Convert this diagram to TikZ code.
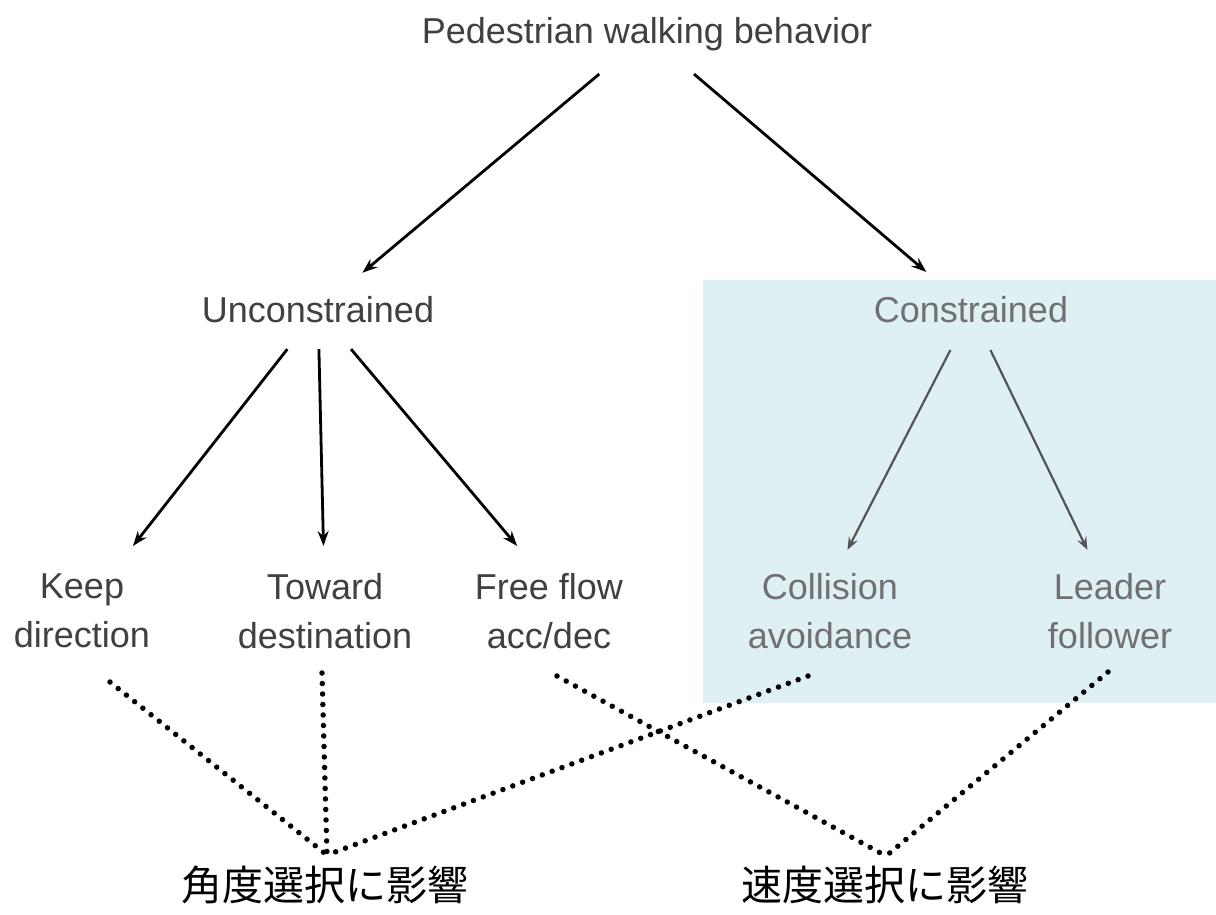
\documentclass[tikz,border=0pt]{standalone}
\usepackage{fontspec}
\setmainfont{Liberation Sans}
\newfontfamily\cjk{Noto Sans CJK JP}
\usetikzlibrary{arrows.meta,calc}
\definecolor{txtdark}{RGB}{64,64,64}
\definecolor{txtlight}{RGB}{112,112,112}
\definecolor{shadebg}{RGB}{223,240,244}
\definecolor{arrgray}{RGB}{85,85,85}
\begin{document}
\begin{tikzpicture}[x=1pt,y=-1pt,
  lbl/.style={font=\fontsize{36}{49}\selectfont, text=txtdark, inner sep=0pt, align=center},
  lbllight/.style={lbl, text=txtlight},
  jp/.style={font=\cjk\fontsize{41}{48}\selectfont, text=black, inner sep=0pt},
  arr/.style={-{Stealth[length=15pt,width=11pt,inset=5pt]}, line width=2.8pt, black},
  arrlight/.style={-{Stealth[length=13pt,width=10pt,inset=5pt]}, line width=2.2pt, arrgray},
  dots/.style={line width=5.5pt, line cap=round, dash pattern=on 0pt off 10.5pt, black}]
\useasboundingbox (0,0) rectangle (1216,914);
\fill[shadebg] (703,280) rectangle (1216,703);

\node[lbl] (title) at (647,34) {Pedestrian walking behavior};
\node[lbl] (uncon) at (318,310) {Unconstrained};
\node[lbllight] (con) at (971,310) {Constrained};
\node[lbl] (keep) at (82,611) {Keep\\direction};
\node[lbl] (toward) at (325,611) {Toward\\destination};
\node[lbl] (free) at (549,611) {Free flow\\acc/dec};
\node[lbllight] (coll) at (830,611) {Collision\\avoidance};
\node[lbllight] (lead) at (1110,611) {Leader\\follower};
\node[jp] (jpA) at (325,885) {角度選択に影響};
\node[jp] (jpB) at (885,885) {速度選択に影響};

\coordinate (freeaim) at ($(free)+(23,0)$);
\coordinate (collaim) at ($(coll)+(-14,0)$);
\coordinate (leadaim) at ($(lead)+(7,0)$);

\draw[arr] ($(title)!0.145!(uncon)$) -- ($(title)!0.865!(uncon)$);
\draw[arr] ($(title)!0.145!(con)$) -- ($(title)!0.862!(con)$);
\draw[arr] ($(uncon)!0.13!(keep)$) -- ($(uncon)!0.784!(keep)$);
\draw[arr] ($(uncon)!0.13!(toward)$) -- ($(uncon)!0.784!(toward)$);
\draw[arr] ($(uncon)!0.13!(freeaim)$) -- ($(uncon)!0.784!(freeaim)$);
\draw[arrlight] ($(con)!0.133!(collaim)$) -- ($(con)!0.797!(collaim)$);
\draw[arrlight] ($(con)!0.133!(leadaim)$) -- ($(con)!0.797!(leadaim)$);

\coordinate (keepdot) at ($(keep)+(28,71)$);
\coordinate (towarddot) at ($(toward)+(-3,62)$);
\coordinate (freedot) at ($(free)+(8,65)$);
\coordinate (colldot) at ($(coll)+(-22,65)$);
\coordinate (leaddot) at ($(lead)+(-2,61)$);
\coordinate (meetA) at ($(jpA)+(2,-30)$);
\coordinate (meetB) at ($(jpB)+(1,-29)$);

\draw[dots] (keepdot) -- (meetA);
\draw[dots] (towarddot) -- (meetA);
\draw[dots] (colldot) -- (meetA);
\draw[dots] (freedot) -- (meetB);
\draw[dots] (leaddot) -- (meetB);
\end{tikzpicture}
\end{document}
